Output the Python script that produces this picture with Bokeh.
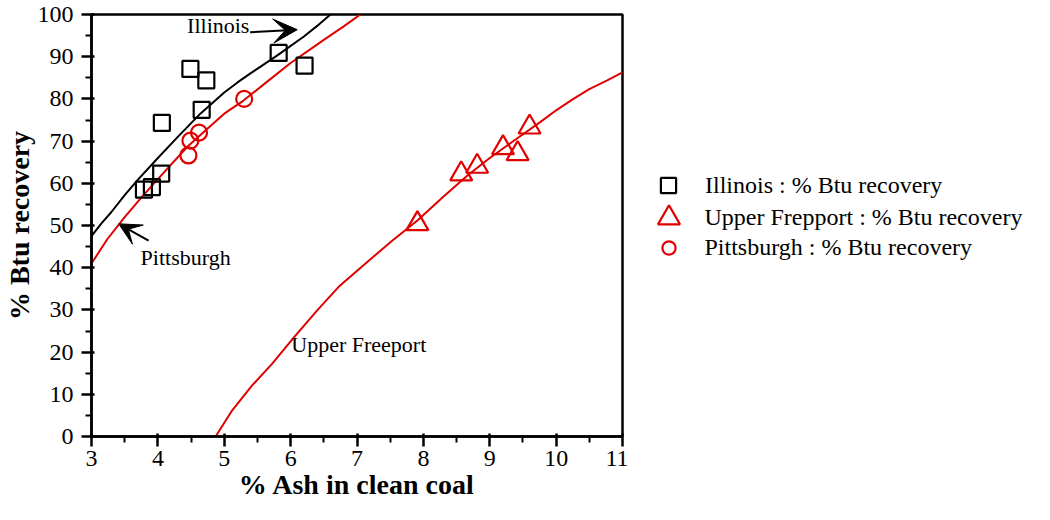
from bokeh.plotting import figure
from bokeh.layouts import row
from bokeh.models import Range1d, Legend, LegendItem, Label, Arrow, VeeHead, FixedTicker
from bokeh.embed import file_html
from bokeh.resources import INLINE

# ---- data ----
illinois_ash = [3.79, 3.91, 4.05, 4.06, 4.49, 4.66, 4.73, 5.82, 6.21]
illinois_btu = [58.5, 59.1, 62.3, 74.3, 87.1, 77.4, 84.4, 90.9, 87.9]

freeport_ash = [7.91, 8.57, 8.81, 9.20, 9.42, 9.60]
freeport_btu = [50.4, 62.2, 64.0, 68.4, 67.0, 73.3]

pitts_ash = [4.46, 4.49, 4.62, 5.30]
pitts_btu = [66.6, 70.1, 72.0, 80.0]

illinois_fit_ash = [3.0, 3.15, 3.3, 3.5, 3.69, 4.0, 4.3, 4.64, 5.0, 5.2, 5.4, 5.8, 6.2, 6.4, 6.6]
illinois_fit_btu = [47.5, 50.5, 53.2, 57.2, 60.7, 66.0, 71.0, 76.5, 81.5, 83.9, 86.1, 90.3, 94.8, 97.3, 100.0]

pitts_fit_ash = [3.0, 3.24, 3.5, 3.75, 4.0, 4.44, 4.75, 5.0, 5.29, 5.6, 6.0, 6.5, 6.8, 7.05]
pitts_fit_btu = [41.0, 46.8, 52.0, 56.6, 61.0, 68.6, 73.0, 76.5, 79.6, 83.5, 88.5, 94.0, 97.2, 100.0]

freeport_fit_ash = [4.87, 5.12, 5.42, 5.72, 6.05, 6.4, 6.72, 7.15, 7.53, 7.91, 8.3, 8.66,
                    9.0, 9.4, 9.76, 10.0, 10.26, 10.5, 10.77, 11.0]
freeport_fit_btu = [0.0, 6.2, 12.1, 17.2, 23.5, 29.9, 35.4, 41.3, 46.4, 51.2, 56.8, 61.8,
                    66.0, 70.5, 74.5, 77.3, 80.0, 82.3, 84.4, 86.3]

x_ticks = [3, 4, 5, 6, 7, 8, 9, 10, 11]
x_minor = [3.5, 4.5, 5.5, 6.5, 7.5, 8.5, 9.5, 10.5]
y_ticks = [0, 10, 20, 30, 40, 50, 60, 70, 80, 90, 100]
y_minor = [5, 15, 25, 35, 45, 55, 65, 75, 85, 95]

legend_labels = ["Illinois : % Btu recovery",
                 "Upper Frepport : % Btu recovery",
                 "Pittsburgh : % Btu recovery"]

RED = "#e00000"
FONT = "Liberation Serif"

MAIN_W = 628
HEIGHT = 504
BOTTOM_BORDER = 68
p = figure(width=MAIN_W, height=HEIGHT, x_range=Range1d(3, 11), y_range=Range1d(0, 100),
           output_backend="svg", toolbar_location=None,
           min_border_left=91, min_border_top=14, min_border_bottom=BOTTOM_BORDER,
           min_border_right=6)

p.xgrid.visible = False
p.ygrid.visible = False
p.outline_line_color = "black"
p.outline_line_width = 2.5
p.outline_line_alpha = 1.0

for ax in (p.xaxis[0], p.yaxis[0]):
    ax.axis_line_width = 2.5
    ax.major_tick_line_width = 2.5
    ax.minor_tick_line_width = 2
    ax.major_tick_out = 10
    ax.major_tick_in = 3
    ax.minor_tick_out = 6
    ax.minor_tick_in = 0
    ax.major_label_text_font = FONT
    ax.major_label_text_font_size = "24px"
    ax.major_label_text_color = "black"
    ax.axis_label_text_font = FONT
    ax.axis_label_text_font_style = "bold"
    ax.axis_label_text_font_size = "28px"
    ax.axis_label_text_color = "black"

p.xaxis.ticker = FixedTicker(ticks=x_ticks, minor_ticks=x_minor)
p.yaxis.ticker = FixedTicker(ticks=y_ticks, minor_ticks=y_minor)
p.xaxis.axis_label = "% Ash in clean coal"
p.yaxis.axis_label = "% Btu recovery"
p.xaxis.major_label_standoff = 4
p.yaxis.major_label_standoff = 8
p.xaxis.axis_label_standoff = 0
p.yaxis.axis_label_standoff = 0

# fitted curves
p.line(illinois_fit_ash, illinois_fit_btu, line_color="black", line_width=2)
p.line(pitts_fit_ash, pitts_fit_btu, line_color=RED, line_width=2)
p.line(freeport_fit_ash, freeport_fit_btu, line_color=RED, line_width=2)

# data points
sq_style = dict(marker="square", size=16, fill_color=None, line_color="black", line_width=2.2)
tri_style = dict(marker="triangle", size=22, fill_color=None, line_color=RED, line_width=2.2)
cir_style = dict(marker="circle", size=16, fill_color=None, line_color=RED, line_width=2.2)
p.scatter(illinois_ash, illinois_btu, **sq_style)
p.scatter(freeport_ash, freeport_btu, **tri_style)
p.scatter(pitts_ash, pitts_btu, **cir_style)

# annotations
lab_style = dict(text_font=FONT, text_font_size="22px", text_color="black",
                 text_baseline="middle", text_align="left")
p.add_layout(Label(x=4.44, y=97.4, text="Illinois", **lab_style))
p.add_layout(Label(x=3.74, y=42.5, text="Pittsburgh", **lab_style))
p.add_layout(Label(x=6.01, y=21.8, text="Upper Freeport", **lab_style))

p.add_layout(Arrow(end=VeeHead(size=24, fill_color="black", line_color="black"),
                   x_start=5.39, y_start=95.8, x_end=6.10, y_end=96.4,
                   line_color="black", line_width=2))
p.add_layout(Arrow(end=VeeHead(size=22, fill_color="black", line_color="black"),
                   x_start=3.86, y_start=46.4, x_end=3.41, y_end=50.4,
                   line_color="black", line_width=2))

# legend panel to the right of the plot (its frame is aligned with the plot's frame)
LEG_W = 1034 - MAIN_W
q = figure(width=LEG_W, height=HEIGHT, x_range=Range1d(0, 1), y_range=Range1d(0, 1),
           output_backend="svg", toolbar_location=None,
           x_axis_location=None, y_axis_location=None, min_border=0)
q.xgrid.visible = False
q.ygrid.visible = False
q.outline_line_color = None

# proxies for the legend glyphs (their points lie outside this panel's ranges)
proxy_ill = q.scatter(illinois_ash, illinois_btu, **sq_style)
proxy_fre = q.scatter(freeport_ash, freeport_btu, **tri_style)
proxy_pit = q.scatter(pitts_ash, pitts_btu, **cir_style)

frame_bottom = HEIGHT - BOTTOM_BORDER
for r, lbl, gw, cy in [(proxy_ill, legend_labels[0], 38, 185),
                       (proxy_fre, legend_labels[1], 55, 217),
                       (proxy_pit, legend_labels[2], 33, 247)]:
    cx = 668
    leg = Legend(items=[LegendItem(label=lbl, renderers=[r], index=0)],
                 location=(cx - gw / 2 - MAIN_W, frame_bottom - (cy + gw / 2)),
                 glyph_width=gw, glyph_height=gw, label_height=gw,
                 label_standoff=int(37 - gw / 2), padding=0, margin=0, spacing=0,
                 border_line_color=None, background_fill_alpha=0,
                 label_text_font=FONT, label_text_font_size="24px",
                 label_text_color="black")
    q.add_layout(leg)

layout = row(p, q, spacing=0)
open("out.html", "w").write(file_html(layout, INLINE))
